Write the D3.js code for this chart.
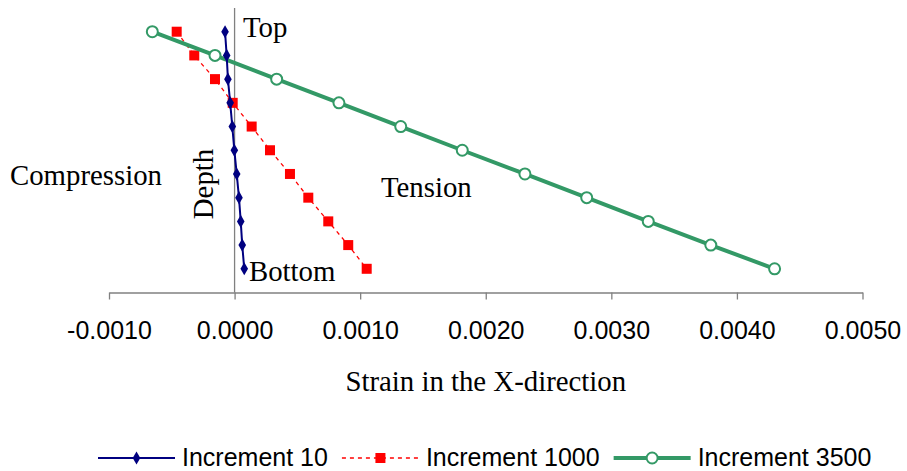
<!DOCTYPE html>
<html>
<head>
<meta charset="utf-8">
<script src="https://cdn.jsdelivr.net/npm/d3@7/dist/d3.min.js"></script>
<style>
  body { margin: 0; background: #fff; }
  .serif { font-family: "Liberation Serif", "Times New Roman", serif; font-size: 28.8px; fill: #000; }
  .sans { font-family: "Liberation Sans", Arial, sans-serif; font-size: 25px; fill: #000; }
</style>
</head>
<body>
<div id="chart"></div>
<script>
var svgWidth = 907;
var svgHeight = 471;

// depth levels, top to bottom
var depth = [1, 2, 3, 4, 5, 6, 7, 8, 9, 10, 11];

var inc10 = [-0.000076, -0.000063, -0.000053, -0.000035, -0.000018, -0.000002,
  0.000017, 0.000035, 0.000049, 0.000061, 0.000077];
var inc1000 = [-0.000461, -0.000321, -0.000156, -0.000015, 0.000136, 0.000282,
  0.000441, 0.000587, 0.000746, 0.000905, 0.001052];
var inc3500 = [-0.000655, -0.000156, 0.000335, 0.000831, 0.001323, 0.001813,
  0.002312, 0.002804, 0.003294, 0.003792, 0.004300];

var xTicks = [-0.001, 0, 0.001, 0.002, 0.003, 0.004, 0.005];
var seriesNames = ["Increment 10", "Increment 1000", "Increment 3500"];

var svg = d3.select("#chart").append("svg")
  .attr("width", svgWidth)
  .attr("height", svgHeight);

var x = d3.scaleLinear().domain([-0.001, 0.005]).range([109, 862.5]);
var y = d3.scaleLinear().domain([0, 12]).range([8, 292.5]);

// x axis
var xAxis = svg.append("g")
  .attr("transform", `translate(0, ${y(12)})`)
  .call(d3.axisBottom(x).tickValues(xTicks).tickSize(7).tickSizeOuter(0).tickFormat(d3.format(".4f")));
xAxis.select(".domain").attr("stroke", "#808080").attr("stroke-width", 1.3);
xAxis.selectAll(".tick line").attr("stroke", "#808080").attr("stroke-width", 1.3);
xAxis.selectAll(".tick text")
  .attr("class", "sans")
  .attr("y", 0)
  .attr("dy", 0)
  .attr("transform", "translate(0, 46)")
  .text(d => d3.format(".4f")(d).replace("−", "-"));

// y axis line at zero strain
svg.append("line")
  .attr("x1", x(0)).attr("x2", x(0))
  .attr("y1", y(0)).attr("y2", y(12))
  .attr("stroke", "#808080").attr("stroke-width", 1.3);

var line = d3.line()
  .x(d => x(d[0]))
  .y(d => y(d[1]));

function pairs(vals) {
  return vals.map((v, i) => [v, depth[i]]);
}

// Increment 1000 - red dashed, squares
svg.append("path")
  .datum(pairs(inc1000))
  .attr("d", line)
  .attr("fill", "none")
  .attr("stroke", "#ff0000")
  .attr("stroke-width", 1.3)
  .attr("stroke-dasharray", "4,4");

svg.selectAll(".sq")
  .data(pairs(inc1000))
  .enter().append("rect")
  .attr("x", d => x(d[0]) - 5)
  .attr("y", d => y(d[1]) - 5)
  .attr("width", 10)
  .attr("height", 10)
  .attr("fill", "#ff0000");

// Increment 3500 - green, open circles
svg.append("path")
  .datum(pairs(inc3500))
  .attr("d", line)
  .attr("fill", "none")
  .attr("stroke", "#339966")
  .attr("stroke-width", 4);

svg.selectAll(".circ")
  .data(pairs(inc3500))
  .enter().append("circle")
  .attr("cx", d => x(d[0]))
  .attr("cy", d => y(d[1]))
  .attr("r", 5.5)
  .attr("fill", "#fff")
  .attr("stroke", "#339966")
  .attr("stroke-width", 2);

// Increment 10 - navy, diamonds
svg.append("path")
  .datum(pairs(inc10))
  .attr("d", line)
  .attr("fill", "none")
  .attr("stroke", "#000080")
  .attr("stroke-width", 2);

var diamond = d3.symbol().type(d3.symbolDiamond).size(50);
svg.selectAll(".dia")
  .data(pairs(inc10))
  .enter().append("path")
  .attr("d", diamond)
  .attr("transform", d => `translate(${x(d[0])}, ${y(d[1])})`)
  .attr("fill", "#000080");

// annotations
svg.append("text").attr("class", "serif").attr("x", 243).attr("y", 37).text("Top");
svg.append("text").attr("class", "serif").attr("x", 249).attr("y", 281).text("Bottom");
svg.append("text").attr("class", "serif").attr("x", 10).attr("y", 185).text("Compression");
svg.append("text").attr("class", "serif").attr("x", 381).attr("y", 197).text("Tension");
svg.append("text").attr("class", "serif")
  .attr("transform", "translate(213, 184) rotate(-90)")
  .attr("text-anchor", "middle")
  .text("Depth");

// x axis title
svg.append("text").attr("class", "serif")
  .attr("x", (x(-0.001) + x(0.005)) / 2)
  .attr("y", 391)
  .attr("text-anchor", "middle")
  .text("Strain in the X-direction");

// legend
var legendY = 458;
var lx = 98;
seriesNames.forEach(function (name, i) {
  var g = svg.append("g");
  var ln = g.append("line")
    .attr("x1", lx).attr("x2", lx + 77)
    .attr("y1", legendY).attr("y2", legendY);
  var cx = lx + 38.5;
  if (i === 0) {
    ln.attr("stroke", "#000080").attr("stroke-width", 2);
    g.append("path").attr("d", diamond)
      .attr("transform", `translate(${cx}, ${legendY})`)
      .attr("fill", "#000080");
  } else if (i === 1) {
    ln.attr("stroke", "#ff0000").attr("stroke-width", 1.3).attr("stroke-dasharray", "4,4");
    g.append("rect").attr("x", cx - 5).attr("y", legendY - 5)
      .attr("width", 10).attr("height", 10).attr("fill", "#ff0000");
  } else {
    ln.attr("stroke", "#339966").attr("stroke-width", 4);
    g.append("circle").attr("cx", cx).attr("cy", legendY).attr("r", 5.5)
      .attr("fill", "#fff").attr("stroke", "#339966").attr("stroke-width", 2);
  }
  var t = g.append("text").attr("class", "sans")
    .attr("x", lx + 84).attr("y", legendY + 8)
    .text(name);
  lx = lx + 84 + t.node().getComputedTextLength() + 14;
});
</script>
</body>
</html>
